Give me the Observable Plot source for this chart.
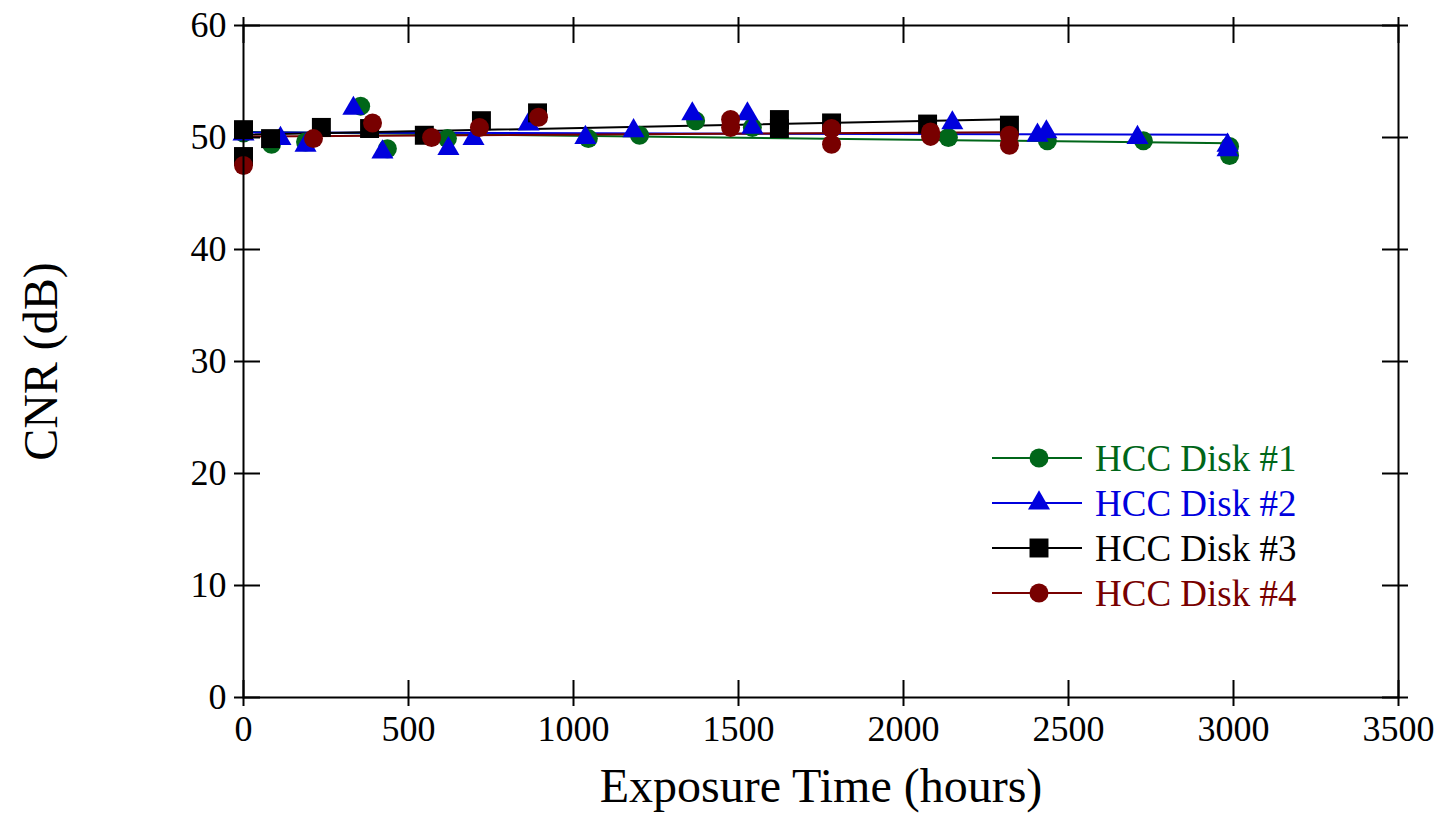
<!DOCTYPE html>
<html>
<head>
<meta charset="utf-8">
<script src="https://cdn.jsdelivr.net/npm/d3@7"></script>
<script src="https://cdn.jsdelivr.net/npm/@observablehq/plot@0.6"></script>
<style>
  html, body { margin: 0; padding: 0; background: #fff; }
  #chart { width: 1443px; height: 817px; }
</style>
</head>
<body>
<div id="chart"></div>
<script>
// ---- data ----
const seriesNames = ["HCC Disk #1", "HCC Disk #2", "HCC Disk #3", "HCC Disk #4"];
const seriesColors = ["#006619", "#0000dd", "#000000", "#780000"];

const disk1X = [0, 85, 188, 355, 436, 618, 1045, 1200, 1370, 1542, 2136, 2436, 2727, 2988, 2988];
const disk1Y = [50.4, 49.4, 49.6, 52.8, 49.0, 49.9, 49.9, 50.2, 51.5, 50.9, 50.0, 49.7, 49.7, 49.2, 48.4];

const disk2X = [0, 112, 188, 333, 421, 621, 697, 864, 1036, 1182, 1360, 1527, 1542, 2148, 2406, 2433, 2709, 2982, 2982];
const disk2Y = [50.3, 49.9, 49.3, 52.6, 48.7, 49.0, 49.9, 51.2, 50.0, 50.6, 52.1, 52.1, 50.9, 51.3, 50.2, 50.5, 50.0, 49.3, 48.9];

const disk3X = [0, 0, 82, 236, 382, 548, 721, 891, 1624, 1624, 1782, 2073, 2321];
const disk3Y = [50.7, 48.3, 49.9, 50.9, 50.8, 50.2, 51.5, 52.2, 51.6, 50.8, 51.3, 51.2, 51.1];

const disk4X = [0, 212, 391, 570, 715, 894, 1476, 1476, 1782, 1782, 2082, 2082, 2321, 2321];
const disk4Y = [47.5, 49.9, 51.3, 50.0, 50.9, 51.8, 51.6, 50.9, 50.8, 49.4, 50.5, 50.1, 50.2, 49.3];

const xTicks = [0, 500, 1000, 1500, 2000, 2500, 3000, 3500];
const yTicks = [0, 10, 20, 30, 40, 50, 60];
const xLabel = "Exposure Time (hours)";
const yLabel = "CNR (dB)";

// ---- build table ----
const allX = [disk1X, disk2X, disk3X, disk4X];
const allY = [disk1Y, disk2Y, disk3Y, disk4Y];
const data = [];
allX.forEach((xs, i) => xs.forEach((x, j) => data.push({series: seriesNames[i], x, y: allY[i][j]})));
const bySeries = name => data.filter(d => d.series === name);

const font = "'Liberation Serif', 'Times New Roman', serif";
const symbols = ["circle", "triangle", "square", "circle"];
const radii = [9.5, 8.2, 10.7, 9.5];

const marks = [];
// regression lines
seriesNames.forEach((name, i) => {
  marks.push(Plot.linearRegressionY(bySeries(name), {x: "x", y: "y", stroke: seriesColors[i], strokeWidth: 2, ci: 0}));
});
// points (drawing order: green, blue, black, red)
seriesNames.forEach((name, i) => {
  marks.push(Plot.dot(bySeries(name), {x: "x", y: "y", fill: seriesColors[i], stroke: "none", symbol: () => symbols[i], r: radii[i]}));
});

const chart = Plot.plot({
  width: 1443,
  height: 817,
  marginLeft: 243,
  marginRight: 45,
  marginTop: 25,
  marginBottom: 120,
  style: {fontFamily: font, background: "#fff", color: "#000", overflow: "visible"},
  x: {domain: [0, 3500], label: null},
  y: {domain: [0, 60], label: null},
  symbol: {type: "identity"},
  marks: [
    ...marks,
    Plot.frame({stroke: "#000", strokeWidth: 2}),
    // crossing ticks: 17 inside, 9 outside
    Plot.axisX(xTicks, {anchor: "bottom", tickSize: 26, dy: -17, text: null, label: null, strokeWidth: 2}),
    Plot.axisX(xTicks, {anchor: "top", tickSize: 26, dy: 17, text: null, label: null, strokeWidth: 2}),
    Plot.axisY(yTicks, {anchor: "left", tickSize: 26, dx: 17, text: null, label: null, strokeWidth: 2}),
    Plot.axisY(yTicks, {anchor: "right", tickSize: 26, dx: -17, text: null, label: null, strokeWidth: 2}),
    Plot.axisX(xTicks, {anchor: "bottom", tickSize: 0, tickPadding: 18, fontSize: 36, label: null, tickFormat: d => String(d)}),
    Plot.axisY(yTicks, {anchor: "left", tickSize: 0, tickPadding: 17, fontSize: 36, label: null, tickFormat: d => String(d)}),
    Plot.text([xLabel], {frameAnchor: "bottom", dy: 104, fontSize: 48, text: d => d}),
    Plot.text([yLabel], {frameAnchor: "left", dx: -202, dy: 0, rotate: -90, textAnchor: "middle", fontSize: 48, text: d => d})
  ]
});

document.getElementById("chart").appendChild(chart);

// ---- legend (inside the plot area) ----
const svg = d3.select(chart);
const leg = svg.append("g").attr("class", "legend");
const rowY = [458, 503, 548, 593];
seriesNames.forEach((name, i) => {
  const g = leg.append("g").attr("transform", `translate(0,${rowY[i]})`);
  g.append("line").attr("x1", 992).attr("x2", 1082).attr("y1", 0).attr("y2", 0)
    .attr("stroke", seriesColors[i]).attr("stroke-width", 2);
  const symType = symbols[i] === "circle" ? d3.symbolCircle : symbols[i] === "triangle" ? d3.symbolTriangle : d3.symbolSquare;
  g.append("path").attr("transform", "translate(1039,0)")
    .attr("d", d3.symbol(symType, Math.PI * radii[i] * radii[i])())
    .attr("fill", seriesColors[i]);
  g.append("text").attr("x", 1095).attr("y", 0).attr("dy", "0.35em")
    .attr("text-anchor", "start")
    .style("font-family", font).style("font-size", "37px").attr("fill", seriesColors[i])
    .text(name);
});
</script>
</body>
</html>
